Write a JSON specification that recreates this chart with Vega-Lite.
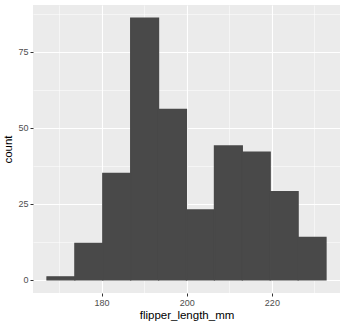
{
  "$schema": "https://vega.github.io/schema/vega-lite/v6.json",
  "width": 307,
  "height": 288,
  "autosize": "none",
  "padding": {"left": 33, "top": 5, "right": 5, "bottom": 31},
  "background": "white",
  "config": {
    "view": {"fill": "#EBEBEB", "stroke": null},
    "axis": {
      "labelFont": "Liberation Sans",
      "titleFont": "Liberation Sans",
      "labelFontSize": 9,
      "labelColor": "#4D4D4D",
      "titleFontSize": 11.5,
      "titleFontWeight": "normal",
      "titleColor": "#000000",
      "domain": false,
      "gridColor": "#FFFFFF",
      "tickColor": "#333333",
      "tickSize": 3,
      "labelPadding": 2
    }
  },
  "data": {
    "values": [
      {"bin_start": 167.17, "bin_end": 173.72, "count": 1},
      {"bin_start": 173.72, "bin_end": 180.28, "count": 12},
      {"bin_start": 180.28, "bin_end": 186.83, "count": 35},
      {"bin_start": 186.83, "bin_end": 193.39, "count": 86},
      {"bin_start": 193.39, "bin_end": 199.94, "count": 56},
      {"bin_start": 199.94, "bin_end": 206.5, "count": 23},
      {"bin_start": 206.5, "bin_end": 213.06, "count": 44},
      {"bin_start": 213.06, "bin_end": 219.61, "count": 42},
      {"bin_start": 219.61, "bin_end": 226.17, "count": 29},
      {"bin_start": 226.17, "bin_end": 232.72, "count": 14}
    ]
  },
  "mark": {"type": "rect", "fill": "#494949", "stroke": "#494949", "strokeWidth": 1.2},
  "encoding": {
    "x": {
      "field": "bin_start",
      "type": "quantitative",
      "scale": {"domain": [163.89, 236.0], "nice": false, "zero": false},
      "axis": {
        "title": "flipper_length_mm",
        "titlePadding": 2,
        "values": [170, 180, 190, 200, 210, 220, 230],
        "labelExpr": "datum.value % 20 == 0 ? datum.label : ''",
        "tickOpacity": {"condition": {"test": "datum.value % 20 == 0", "value": 1}, "value": 0},
        "gridWidth": {"condition": {"test": "datum.value % 20 == 0", "value": 1.1}, "value": 0.5}
      }
    },
    "x2": {"field": "bin_end"},
    "y": {
      "field": "count",
      "type": "quantitative",
      "scale": {"domain": [-4.3, 90.3], "nice": false, "zero": false},
      "axis": {
        "title": "count",
        "titlePadding": 4,
        "values": [0, 12.5, 25, 37.5, 50, 62.5, 75, 87.5],
        "labelExpr": "datum.value % 25 == 0 ? datum.label : ''",
        "tickOpacity": {"condition": {"test": "datum.value % 25 == 0", "value": 1}, "value": 0},
        "gridWidth": {"condition": {"test": "datum.value % 25 == 0", "value": 1.1}, "value": 0.5}
      }
    },
    "y2": {"datum": 0}
  }
}
